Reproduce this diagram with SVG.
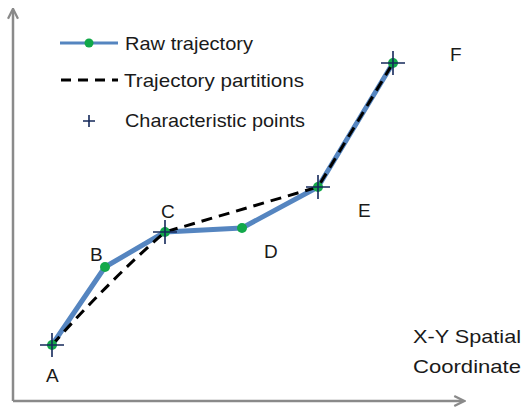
<svg xmlns="http://www.w3.org/2000/svg" width="526" height="410" viewBox="0 0 526 410">
<style>
text{font-family:"Liberation Sans",Arial,sans-serif;font-size:19px;fill:#1a1a1a}
.lbl{font-size:19px}
.raw{fill:none;stroke:#5585C0;stroke-width:5;stroke-linejoin:round}
.dash{fill:none;stroke:#000;stroke-width:3;stroke-dasharray:11 7}
.dot{fill:#12A84A}
.cp{stroke:#14285A;stroke-width:1.6}
.axis{stroke:#8a8a8a;stroke-width:2.5;fill:none}
</style>
<defs>
<marker id="ah" viewBox="0 0 10 10" refX="8" refY="5" markerWidth="5" markerHeight="5" orient="auto"><path d="M1,1 L9,5 L1,9" fill="none" stroke="#8a8a8a" stroke-width="1.8"/></marker>
</defs>
<g id="axes">
<path class="axis" d="M13,401 L13,10" marker-end="url(#ah)"/>
<path class="axis" d="M13,401 L463,401" marker-end="url(#ah)"/>
</g>
<g id="connectors">
<path class="raw" d="M52,345 L105,267 L165,232 L242,228 L318,187 L393,63"/>
<path class="dash" d="M52,345 Q110,280 165,232 L318,187 L393,63"/>
</g>
<g id="A"><circle class="dot" cx="52" cy="345" r="5"/><path class="cp" d="M40,345 H64 M52,333 V357"/><text class="lbl" x="46" y="382">A</text></g>
<g id="B"><circle class="dot" cx="105" cy="267" r="5"/><text class="lbl" x="90" y="261">B</text></g>
<g id="C"><circle class="dot" cx="165" cy="232" r="5"/><path class="cp" d="M153,232 H177 M165,220 V244"/><text class="lbl" x="161" y="218">C</text></g>
<g id="D"><circle class="dot" cx="242" cy="228" r="5"/><text class="lbl" x="264" y="258">D</text></g>
<g id="E"><circle class="dot" cx="318" cy="187" r="5"/><path class="cp" d="M306,187 H330 M318,175 V199"/><text class="lbl" x="358" y="217">E</text></g>
<g id="F"><circle class="dot" cx="393" cy="63" r="5"/><path class="cp" d="M381,63 H405 M393,51 V75"/><text class="lbl" x="450" y="61">F</text></g>
<g id="legend">
<line x1="60" y1="43" x2="118" y2="43" stroke="#5585C0" stroke-width="3"/>
<circle class="dot" cx="89" cy="43" r="4.5"/>
<text x="125" y="50" textLength="128" lengthAdjust="spacingAndGlyphs">Raw trajectory</text>
<line x1="61" y1="80" x2="118" y2="80" stroke="#000" stroke-width="3" stroke-dasharray="10 7"/>
<text x="124" y="87" textLength="180" lengthAdjust="spacingAndGlyphs">Trajectory partitions</text>
<path class="cp" d="M83,121 H95 M89,115 V127"/>
<text x="125" y="127" textLength="180" lengthAdjust="spacingAndGlyphs">Characteristic points</text>
</g>
<g id="axis-label">
<text x="413" y="343" font-size="20" textLength="108" lengthAdjust="spacingAndGlyphs">X-Y Spatial</text>
<text x="413" y="373" font-size="20" textLength="108" lengthAdjust="spacingAndGlyphs">Coordinate</text>
</g>
</svg>
